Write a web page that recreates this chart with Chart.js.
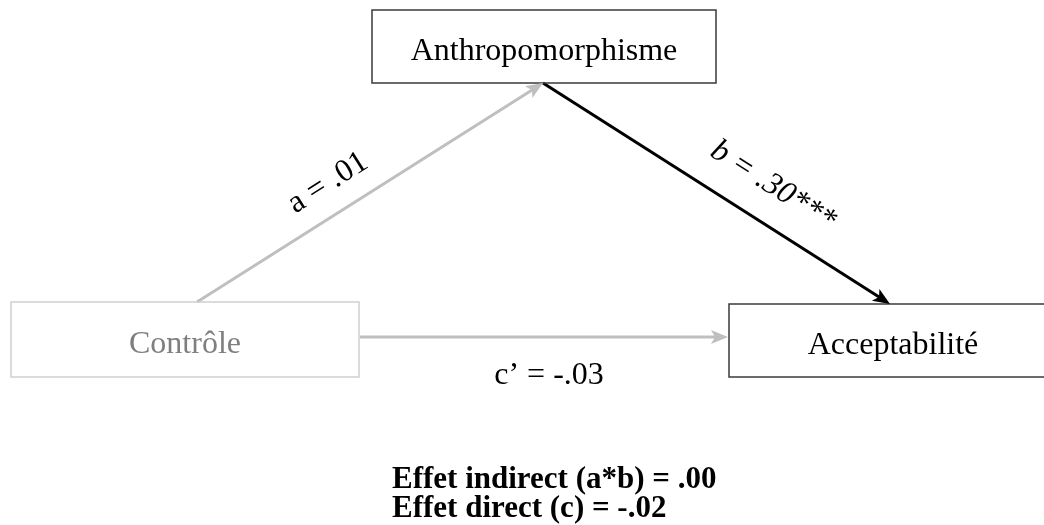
<!DOCTYPE html>
<html>
<head>
<meta charset="utf-8">
<script src="https://cdn.jsdelivr.net/npm/chart.js@4.4.1/dist/chart.umd.min.js"></script>
<style>
  html, body { margin: 0; padding: 0; background: #ffffff; }
  #wrap { width: 1044px; height: 525px; }
</style>
</head>
<body>
<div id="wrap"><canvas id="c" width="1044" height="525"></canvas></div>
<script>
// ---------- data ----------
const nodeNames = ['Anthropomorphisme', 'Contrôle', 'Acceptabilité'];
const pathNames = ['a', 'b', 'c’'];
const pathCoefficients = ['.01', '.30', '-.03'];
const pathSignificance = ['', '***', ''];
const effectNames = ['Effet indirect (a*b)', 'Effet direct (c)'];
const effectValues = ['.00', '-.02'];

// ---------- layout (diagram coordinates, px) ----------
const boxLeft   = [372, 11, 729];
const boxRight  = [716, 359, 1055];
const boxTop    = [10, 302, 304];
const boxBottom = [83, 377, 377];
const boxBorder = ['#3a3a3a', '#cfcfcf', '#3a3a3a'];
const boxText   = ['#000000', '#7f7f7f', '#000000'];
const textCenterX = [544, 185, 893];
const textBaseline = [60, 353, 354];

const arrowFromX = [197, 543, 360];
const arrowFromY = [302, 83, 337];
const arrowToX   = [543, 890, 728];
const arrowToY   = [83, 304, 337];
const arrowColor = ['#bfbfbf', '#000000', '#bfbfbf'];
const arrowWidth = [3, 3, 3];

const labelX = [328, 773, 549];
const labelY = [183, 186, 376];
const labelItalic = [false, true, false];

const effectX = 392;
const effectY = [488, 517];

const HEAD_LEN = 17, HEAD_HALF = 7, HEAD_NOTCH = 4;

function shorten(i) {
  const dx = arrowToX[i] - arrowFromX[i], dy = arrowToY[i] - arrowFromY[i];
  const L = Math.hypot(dx, dy);
  const k = (L - HEAD_LEN + HEAD_NOTCH + 1) / L;
  return { x: arrowFromX[i] + dx * k, y: arrowFromY[i] + dy * k };
}

const datasets = pathNames.map((p, i) => ({
  label: p,
  data: [{ x: arrowFromX[i], y: arrowFromY[i] }, shorten(i)],
  showLine: true,
  borderColor: arrowColor[i],
  borderWidth: arrowWidth[i],
  pointRadius: 0,
  fill: false,
  borderCapStyle: 'butt'
}));

const diagramPlugin = {
  id: 'diagram',
  afterDatasetsDraw(chart) {
    const ctx = chart.ctx;
    const X = v => chart.scales.x.getPixelForValue(v);
    const Y = v => chart.scales.y.getPixelForValue(v);
    ctx.save();
    // boxes
    nodeNames.forEach((name, i) => {
      const x0 = X(boxLeft[i]), x1 = X(boxRight[i]);
      const y0 = Y(boxTop[i]), y1 = Y(boxBottom[i]);
      ctx.strokeStyle = boxBorder[i];
      ctx.lineWidth = 1.5;
      ctx.strokeRect(x0, y0, x1 - x0, y1 - y0);
      ctx.fillStyle = boxText[i];
      ctx.font = '32px "Liberation Serif", "Times New Roman", serif';
      ctx.textAlign = 'center';
      ctx.textBaseline = 'alphabetic';
      ctx.fillText(name, X(textCenterX[i]), Y(textBaseline[i]));
    });
    // arrowheads
    pathNames.forEach((p, i) => {
      const tx = X(arrowToX[i]), ty = Y(arrowToY[i]);
      const fx = X(arrowFromX[i]), fy = Y(arrowFromY[i]);
      const ang = Math.atan2(ty - fy, tx - fx);
      ctx.save();
      ctx.translate(tx, ty);
      ctx.rotate(ang);
      ctx.beginPath();
      ctx.moveTo(0, 0);
      ctx.lineTo(-HEAD_LEN, -HEAD_HALF);
      ctx.lineTo(-HEAD_LEN + HEAD_NOTCH, 0);
      ctx.lineTo(-HEAD_LEN, HEAD_HALF);
      ctx.closePath();
      ctx.fillStyle = arrowColor[i];
      ctx.fill();
      ctx.restore();
    });
    // path labels
    pathNames.forEach((p, i) => {
      const text = p + ' = ' + pathCoefficients[i] + pathSignificance[i];
      ctx.save();
      ctx.translate(X(labelX[i]), Y(labelY[i]));
      if (i < 2) {
        const dx = X(arrowToX[i]) - X(arrowFromX[i]);
        const dy = Y(arrowToY[i]) - Y(arrowFromY[i]);
        ctx.rotate(Math.atan2(dy, dx));
      }
      ctx.font = (labelItalic[i] ? 'italic ' : '') + '32px "Liberation Serif", "Times New Roman", serif';
      ctx.fillStyle = '#000000';
      ctx.textAlign = 'center';
      ctx.textBaseline = 'middle';
      ctx.fillText(text, 0, 0);
      ctx.restore();
    });
    // effects
    ctx.font = 'bold 31px "Liberation Serif", "Times New Roman", serif';
    ctx.fillStyle = '#000000';
    ctx.textAlign = 'left';
    ctx.textBaseline = 'alphabetic';
    effectNames.forEach((e, i) => {
      ctx.fillText(e + ' = ' + effectValues[i], X(effectX), Y(effectY[i]));
    });
    ctx.restore();
  }
};

new Chart(document.getElementById('c'), {
  type: 'scatter',
  data: { datasets },
  options: {
    responsive: false,
    devicePixelRatio: 1,
    animation: false,
    layout: { padding: 0 },
    plugins: { legend: { display: false }, tooltip: { enabled: false }, title: { display: false } },
    scales: {
      x: { type: 'linear', min: 0, max: 1044, display: false },
      y: { type: 'linear', min: 0, max: 525, reverse: true, display: false }
    }
  },
  plugins: [diagramPlugin]
});
</script>
</body>
</html>
